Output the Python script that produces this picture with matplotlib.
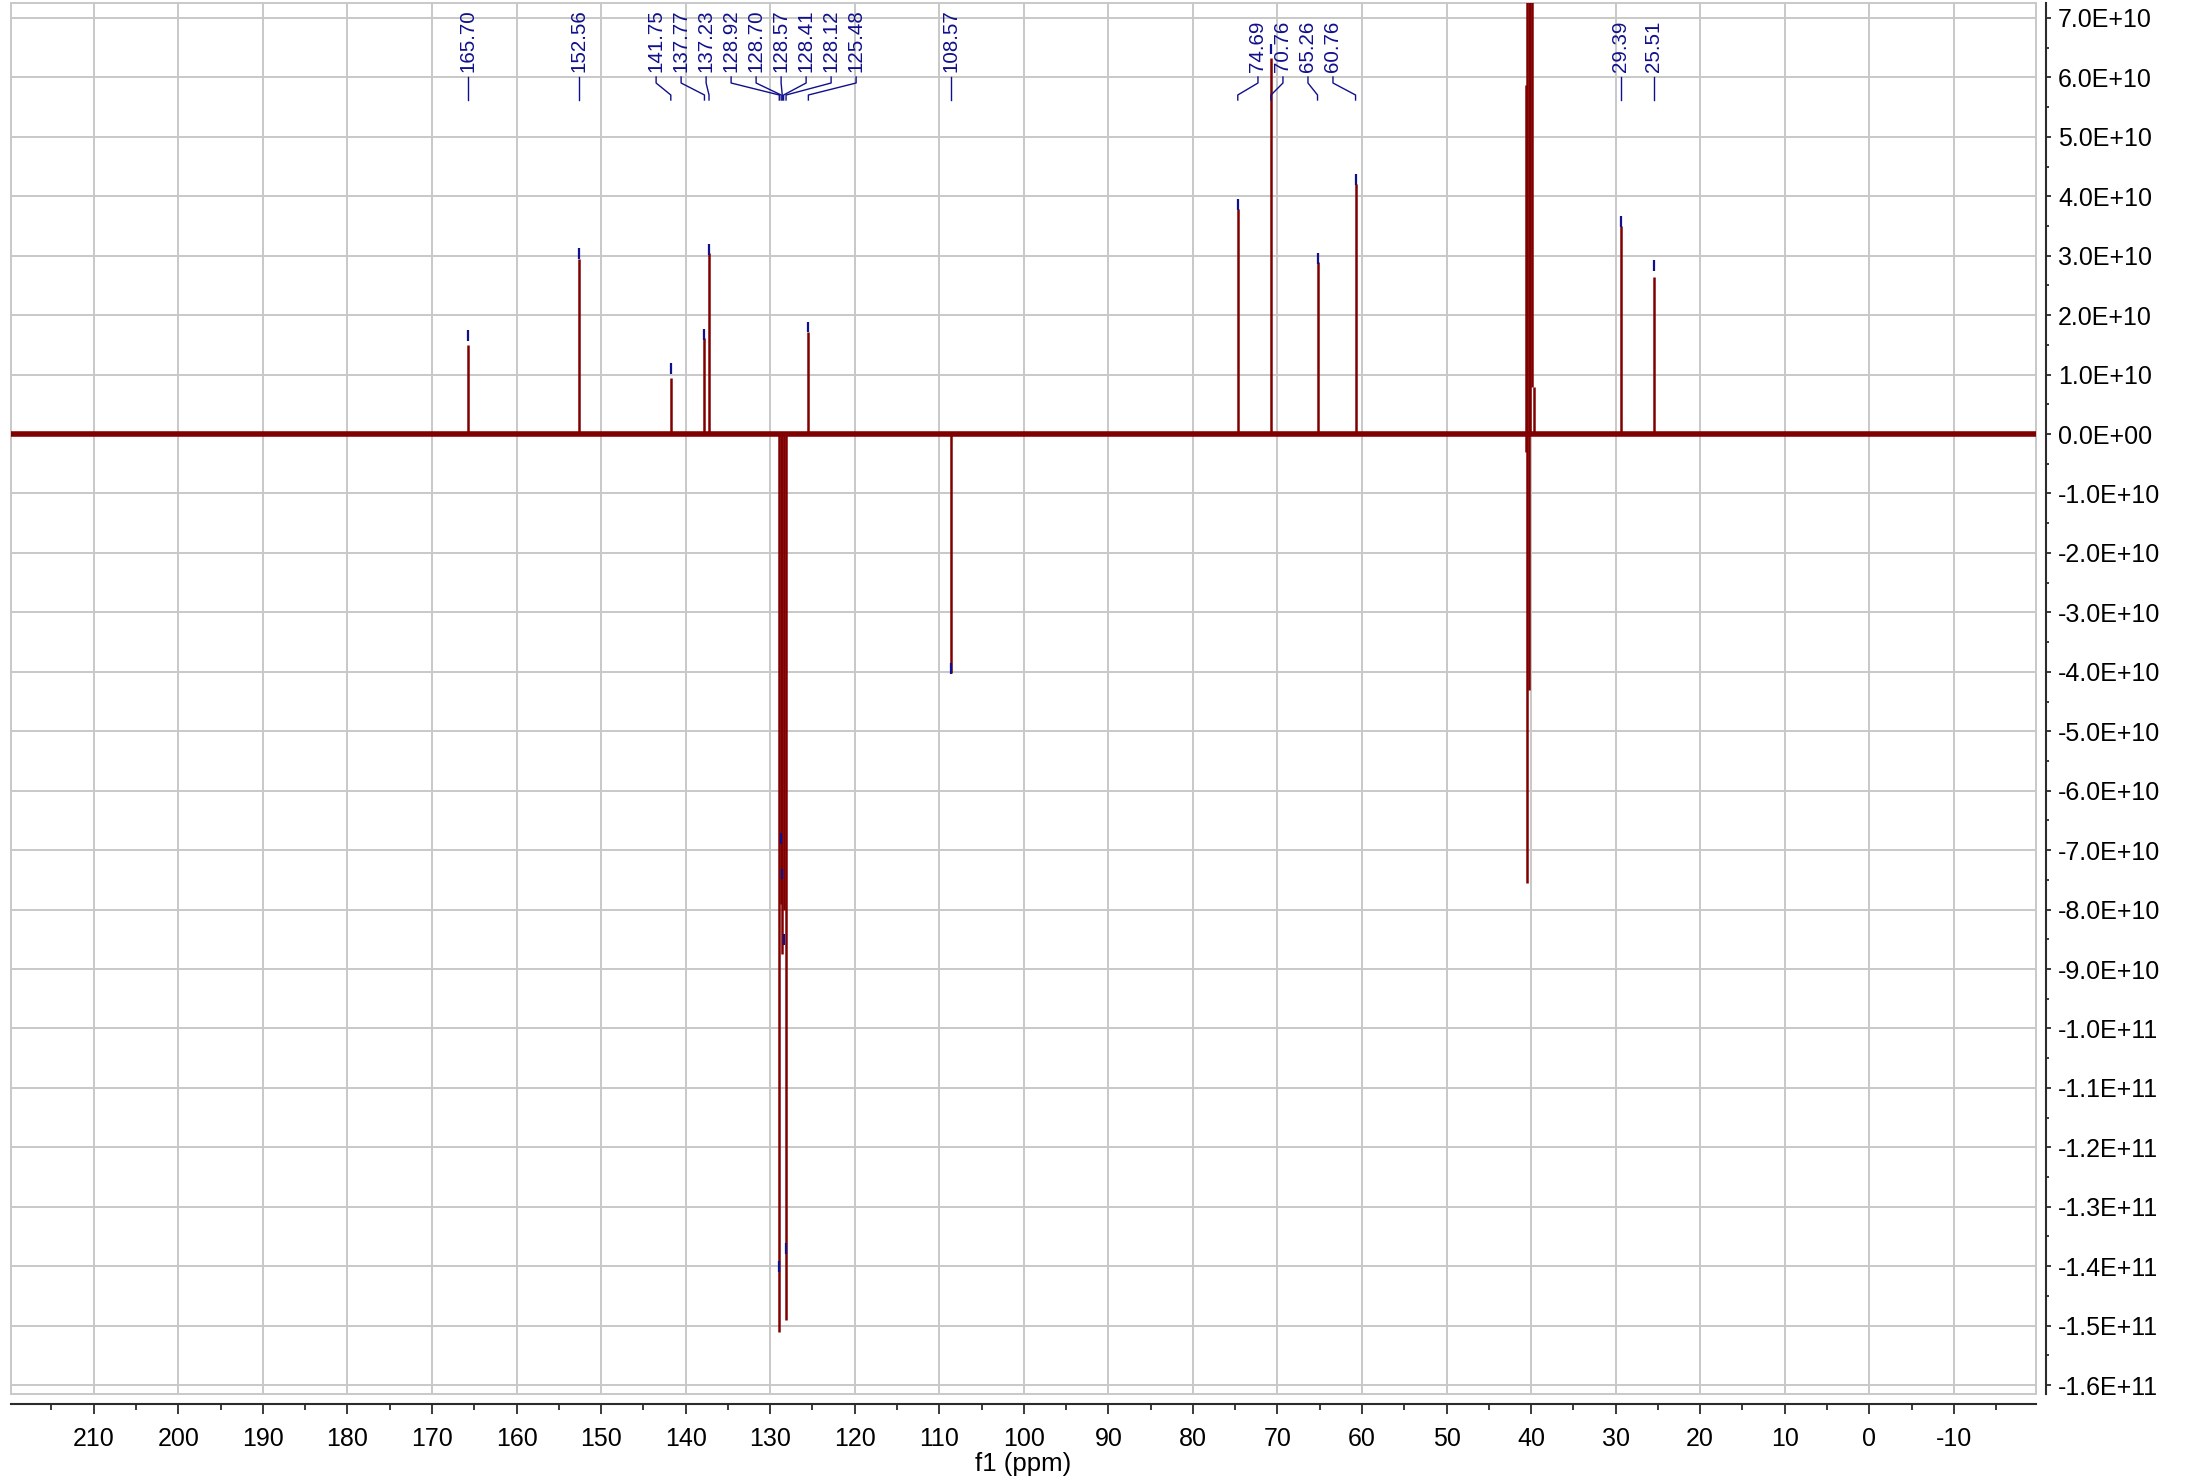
import numpy as np
import matplotlib
matplotlib.use('Agg')
import matplotlib.pyplot as plt
from matplotlib.patches import Rectangle
from matplotlib.ticker import MultipleLocator, FuncFormatter
import matplotlib.transforms as mtransforms

plt.rcParams['font.family'] = ['Liberation Sans', 'DejaVu Sans']
plt.rcParams['axes.unicode_minus'] = False

# intensities below are in units of 1E+10
E10 = 1e10

# picked peaks (ppm), line height, position of the blue pick marker
peak_ppm = [165.70, 152.56, 141.75, 137.77, 137.23, 128.92, 128.70, 128.57, 128.41,
            128.12, 125.48, 108.57, 74.69, 70.76, 65.26, 60.76, 29.39, 25.51]
peak_int = [1.50, 2.95, 0.95, 1.62, 3.05, -15.10, -7.90, -8.75, -8.00,
            -14.90, 1.72, -4.02, 3.78, 6.33, 2.90, 4.20, 3.50, 2.65]
mark_int = [1.66, 3.04, 1.10, 1.68, 3.11, -14.00, -6.80, -7.40, -8.50,
            -13.70, 1.80, -3.95, 3.86, 6.48, 2.95, 4.28, 3.58, 2.83]
# which peaks share one bracket of labels
label_group = [0, 1, 2, 2, 2, 2, 2, 2, 2, 2, 2, 3, 4, 4, 4, 4, 5, 6]

# solvent (DMSO) lines, not picked
dmso_ppm = [40.62, 40.45, 40.28, 40.10, 39.85, 39.65]
dmso_lo = [-0.30, -7.55, -4.30, 0.00, 0.80, 0.00]
dmso_hi = [5.87, 8.00, 8.00, 8.00, 8.00, 0.80]

W, H = 2190, 1483
SPEC = '#800000'
LBL = '#10108c'
GRID = '#c8c8c8'
AXC = '#2b2b2b'

# plot box in pixels (left, top, right, bottom)
BL, BT, BR, BB = 11, 3, 2036, 1394


def yfrac(p):
    # pixel row from top -> axes fraction
    return 1 - (p - BT) / (BB - BT)


def ylabel_fmt(v, pos):
    n = round(v / E10, 1)
    if n == 0:
        return '0.0E+00'
    return '%.1E' % (n * E10)


fig = plt.figure(figsize=(W / 100, H / 100), dpi=100)
ax = fig.add_axes([BL / W, 1 - BB / H, (BR - BL) / W, (BB - BT) / H])
ax.set_xlim(219.79, -19.72)
ax.set_ylim(-16.15 * E10, 7.252 * E10)

ax.xaxis.set_major_locator(MultipleLocator(10))
ax.xaxis.set_minor_locator(MultipleLocator(5))
ax.yaxis.set_major_locator(MultipleLocator(E10))
ax.yaxis.set_minor_locator(MultipleLocator(0.5 * E10))
ax.yaxis.set_major_formatter(FuncFormatter(ylabel_fmt))
ax.yaxis.tick_right()

ax.grid(True, which='major', color=GRID, lw=1.4)
ax.set_axisbelow(True)

for s in ['top', 'left']:
    ax.spines[s].set_visible(False)
for s in ['bottom', 'right']:
    ax.spines[s].set_position(('outward', 7.2))
    ax.spines[s].set_color(AXC)
    ax.spines[s].set_linewidth(1.5)
ax.add_patch(Rectangle((0, 0), 1, 1, transform=ax.transAxes, fill=False,
                       ec=GRID, lw=1.4, clip_on=False, zorder=1))

ax.tick_params(axis='x', which='major', direction='out', length=7.5, width=1.3,
               color=AXC, labelsize=18, pad=9)
ax.tick_params(axis='x', which='minor', direction='out', length=4.3, width=1.3, color=AXC)
ax.tick_params(axis='y', which='major', direction='out', length=3.6, width=1.3,
               color=AXC, labelsize=18, pad=5)
ax.tick_params(axis='y', which='minor', direction='out', length=2.5, width=1.3, color=AXC)
ax.set_xlabel('f1 (ppm)', fontsize=18.5, labelpad=1)

# spectrum: baseline, peaks, solvent
pk = np.array(peak_int) * E10
ax.axhline(0, color=SPEC, lw=4.0, zorder=2)
ax.vlines(peak_ppm, 0, pk, colors=SPEC, lw=1.8, zorder=3)
ax.vlines(dmso_ppm, np.array(dmso_lo) * E10, np.array(dmso_hi) * E10,
          colors=SPEC, lw=1.8, zorder=3)
mk = np.array(mark_int) * E10
ax.vlines(peak_ppm, mk - 0.09 * E10, mk + 0.09 * E10, colors=LBL, lw=1.6, zorder=4)

# peak labels, spread 25 px apart inside a group
trans = mtransforms.blended_transform_factory(ax.transData, ax.transAxes)
px_per_ppm = (BR - BL) / (219.79 + 19.72)
spacing = 25 / px_per_ppm
groups = {}
for i, g in enumerate(label_group):
    groups.setdefault(g, []).append(i)
for g, idx in groups.items():
    centre = np.mean([peak_ppm[i] for i in idx])
    n = len(idx)
    for k, i in enumerate(idx):
        sx = centre + spacing * ((n - 1) / 2 - k)
        px = peak_ppm[i]
        ax.text(sx, yfrac(72), '%.2f' % px, rotation=90, ha='center', va='bottom',
                transform=trans, fontsize=14.8, color=LBL, clip_on=False)
        ax.plot([sx, sx, px, px], [yfrac(77), yfrac(83), yfrac(95), yfrac(100)],
                transform=trans, color=LBL, lw=1.0, clip_on=False, zorder=5)

fig.savefig('out.png', dpi=100)
